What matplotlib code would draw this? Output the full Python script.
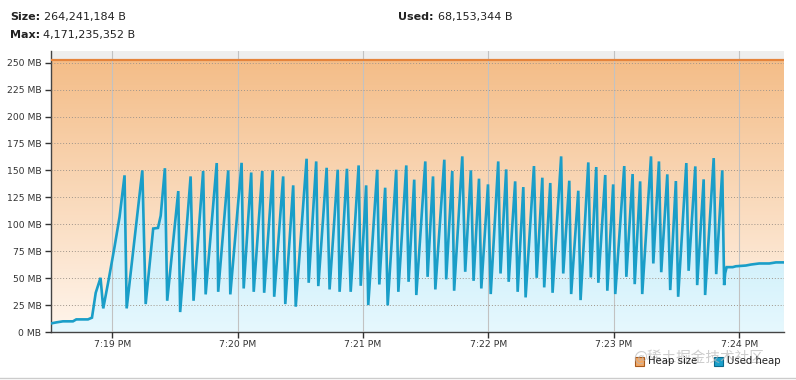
import numpy as np
import matplotlib
matplotlib.use('Agg')
import matplotlib.pyplot as plt
from matplotlib.colors import LinearSegmentedColormap
from matplotlib.patches import Rectangle
from matplotlib.lines import Line2D

# seconds after 7:18 PM, used heap in MB
used_t = [30.8, 33.2, 36.4, 41.2, 42.8, 48.4, 50.3, 52.1, 54.4, 55.7, 58.4, 61.1, 63.5, 65.9, 66.9,
          74.4, 76.0, 79.6, 81.9, 83.2, 85.2, 86.3, 91.6, 92.5, 97.5, 98.9, 103.5, 104.7, 110.0, 110.7,
          115.5, 116.5, 121.9, 122.9, 126.5, 127.7, 131.8, 132.7, 136.8, 137.5, 141.8, 142.8, 146.6, 147.8,
          153.0, 154.0, 157.6, 158.6, 162.6, 164.0, 167.9, 168.8, 172.3, 174.1, 177.9, 178.9, 181.5, 182.5,
          186.8, 187.8, 190.6, 191.8, 195.9, 196.9, 200.7, 201.8, 204.5, 205.5, 209.8, 210.9, 213.5, 214.6,
          218.9, 219.8, 222.7, 223.6, 227.5, 228.9, 231.6, 232.9, 235.5, 236.6, 239.8, 241.1, 244.7, 245.8,
          248.5, 249.7, 252.8, 254.0, 256.7, 257.8, 261.8, 263.1, 265.8, 266.7, 269.6, 270.7, 274.8, 275.8,
          278.7, 279.6, 283.0, 284.1, 287.8, 289.0, 291.6, 292.6, 295.9, 296.9, 299.7, 300.7, 305.0, 306.0,
          309.0, 310.0, 312.6, 313.6, 317.8, 318.9, 321.6, 322.7, 325.6, 327.0, 329.7, 330.8, 334.7, 335.8,
          339.0, 339.9, 343.0, 343.7, 347.8, 349.0, 351.9, 352.8, 353.3, 354.0, 356.9, 358.4, 363.2, 365.6,
          369.6, 374.4, 377.6, 381.4]
used_mb = [8.0, 8.9, 9.9, 9.9, 11.7, 11.7, 13.3, 36.4, 50.3, 21.9, 49.7, 79.0, 106.8, 145.4, 21.9,
           150.0, 25.9, 96.0, 96.6, 108.0, 152.0, 29.0, 130.8, 18.5, 144.4, 29.0, 149.4, 34.9, 156.8, 37.3,
           150.0, 34.9, 157.0, 40.4, 148.0, 37.3, 149.4, 36.4, 150.0, 32.7, 144.4, 25.9, 136.1, 23.5,
           160.8, 45.7, 158.3, 42.6, 152.4, 39.5, 150.6, 37.3, 151.5, 37.3, 154.6, 42.9, 136.1, 25.0,
           150.6, 44.1, 133.9, 24.7, 150.6, 37.3, 154.6, 46.6, 141.4, 34.3, 158.3, 51.2, 144.4, 39.5,
           159.9, 48.8, 149.4, 38.3, 163.0, 55.9, 150.0, 47.5, 142.3, 40.4, 137.0, 35.2, 158.3, 54.3,
           150.9, 46.6, 139.8, 37.3, 134.5, 32.1, 154.0, 50.3, 143.2, 41.4, 138.3, 36.4, 163.0, 54.3,
           140.4, 35.2, 131.1, 29.6, 157.4, 50.6, 153.1, 45.7, 145.7, 38.3, 137.0, 35.2, 154.0, 51.2,
           146.6, 44.4, 139.8, 35.2, 163.0, 63.6, 158.3, 55.5, 146.3, 38.9, 140.1, 32.7, 156.8, 56.8,
           153.7, 43.5, 141.7, 34.3, 161.4, 53.7, 150.0, 43.5, 54.6, 60.2, 60.2, 61.0, 61.7, 62.6,
           63.6, 63.6, 64.6, 64.6]

heap_t = [30.7, 381.4]
heap_mb = [252.0, 252.0]

y_ticks = [0, 25, 50, 75, 100, 125, 150, 175, 200, 225, 250]
x_ticks = [60, 120, 180, 240, 300, 360]
x_labels = ['7:19 PM', '7:20 PM', '7:21 PM', '7:22 PM', '7:23 PM', '7:24 PM']

X0, X1 = 30.7, 381.2
Y0, Y1 = 0, 260.8


def gradient_area(ax, x, y, c_top, c_bot, top, z):
    poly = ax.fill_between(x, y, 0, color='none', lw=0)
    path = poly.get_paths()[0]
    cmap = LinearSegmentedColormap.from_list('g', [c_bot, c_top])
    grad = np.linspace(0, 1, 256).reshape(-1, 1)
    im = ax.imshow(grad, aspect='auto', cmap=cmap, origin='lower',
                   extent=[X0, X1, 0, top], zorder=z, interpolation='bilinear')
    im.set_clip_path(path, transform=ax.transData)


fig = plt.figure(figsize=(7.96, 3.8), dpi=100)
ax = fig.add_axes([51 / 796, 1 - 332 / 380, (783.5 - 51) / 796, (332 - 51) / 380])
ax.set_facecolor('#eeeeee')

gradient_area(ax, heap_t, heap_mb, '#f4bd88', '#fff5ec', 252, 1)
gradient_area(ax, used_t, used_mb, '#b6e6f6', '#e6f8fe', 165, 1.5)

ax.plot(heap_t, heap_mb, color='#e5843c', lw=1.6, zorder=4)
ax.plot(used_t, used_mb, color='#1a9ec8', lw=1.9, zorder=5, solid_joinstyle='miter')

ax.set_xlim(X0, X1)
ax.set_ylim(Y0, Y1)
ax.set_axisbelow(False)

ax.set_yticks(y_ticks)
ax.set_yticklabels([f'{v} MB' for v in y_ticks])
ax.set_xticks(x_ticks)
ax.set_xticklabels(x_labels)
ax.tick_params(axis='both', labelsize=6.7, colors='#333333', length=4, width=1, direction='out', pad=2)
ax.tick_params(axis='y', pad=3)

ax.yaxis.grid(True, color='#a0958a', linestyle=(0, (1, 2)), lw=0.7)
ax.xaxis.grid(True, color='#c2c2c2', linestyle='-', lw=0.8)

for s in ['top', 'right']:
    ax.spines[s].set_visible(False)
for s in ['left', 'bottom']:
    ax.spines[s].set_color('#444444')
    ax.spines[s].set_linewidth(1.0)

# header
hdr = dict(fontsize=8, color='#222222', va='center')
fig.text(10 / 796, 1 - 17 / 380, 'Size:', fontweight='bold', **hdr)
fig.text(44.5 / 796, 1 - 17 / 380, '264,241,184 B', **hdr)
fig.text(10 / 796, 1 - 35 / 380, 'Max:', fontweight='bold', **hdr)
fig.text(43 / 796, 1 - 35 / 380, '4,171,235,352 B', **hdr)
fig.text(398 / 796, 1 - 17 / 380, 'Used:', fontweight='bold', **hdr)
fig.text(438.5 / 796, 1 - 17 / 380, '68,153,344 B', **hdr)

# watermark (overlaps the legend, as in the source image)
fig.text(633 / 796, 1 - 357 / 380, '@稀土掘金技术社区', fontsize=10.5, color='#b8b8b8', alpha=0.7,
         va='center', family=['Noto Sans CJK SC', 'DejaVu Sans'])

# legend
fig.add_artist(Rectangle((635 / 796, 1 - 366 / 380), 9 / 796, 9 / 380, transform=fig.transFigure,
                         facecolor='#f3a865', edgecolor='#a85a1c', lw=0.8))
fig.add_artist(Rectangle((714 / 796, 1 - 366 / 380), 9 / 796, 9 / 380, transform=fig.transFigure,
                         facecolor='#1aa0cc', edgecolor='#0c6a8c', lw=0.8))
fig.text(648 / 796, 1 - 361.5 / 380, 'Heap size', fontsize=7.3, color='#222222', va='center')
fig.text(727 / 796, 1 - 361.5 / 380, 'Used heap', fontsize=7.3, color='#222222', va='center')

fig.add_artist(Line2D([0, 1], [1 - 377.5 / 380] * 2, transform=fig.transFigure, color='#cccccc', lw=1))

fig.savefig('out.png', dpi=100, facecolor='white')
